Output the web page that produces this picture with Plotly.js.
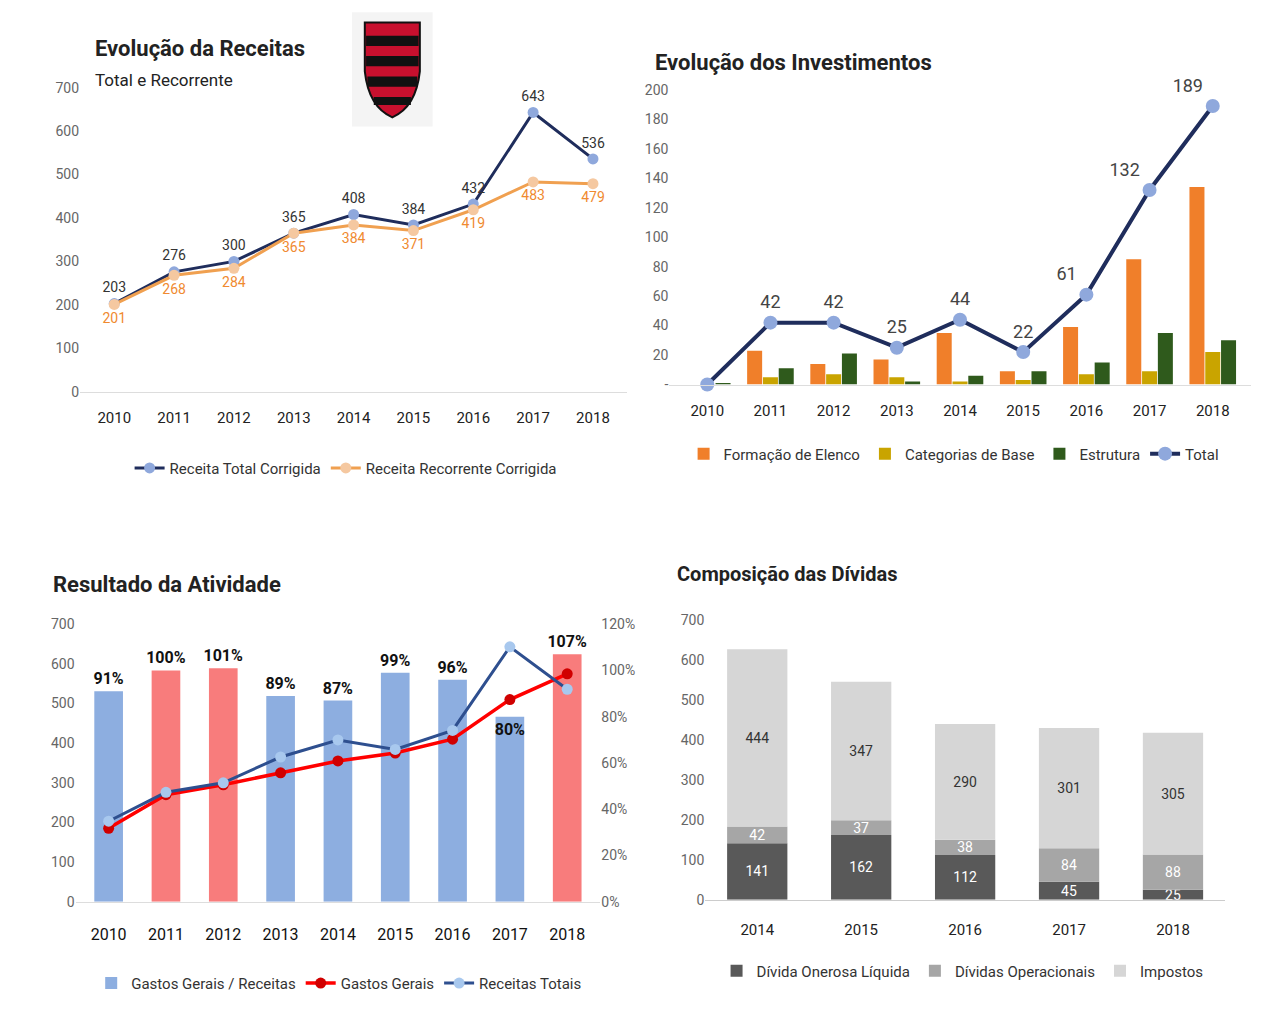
<!DOCTYPE html>
<html>
<head>
<meta charset="utf-8">
<script src="https://cdn.plot.ly/plotly-3.0.1.min.js"></script>
<style>body{margin:0;background:#fff}#graf{width:1280px;height:1020px}</style>
</head>
<body>
<div id="graf"></div>
<script>
// Dados
let anos = ['2010','2011','2012','2013','2014','2015','2016','2017','2018'];
let receita_total = [203, 276, 300, 365, 408, 384, 432, 643, 536];
let receita_recorrente = [201, 268, 284, 365, 384, 371, 419, 483, 479];

let invest_total = [0, 42, 42, 25, 44, 22, 61, 132, 189];
let formacao_elenco = [0, 23, 14, 17, 35, 9, 39, 85, 134];
let categorias_base = [0, 5, 7, 5, 2, 3, 7, 9, 22];
let estrutura = [1, 11, 21, 2, 6, 9, 15, 35, 30];

let gastos_receitas = [0.91, 1.00, 1.01, 0.89, 0.87, 0.99, 0.96, 0.80, 1.07];
let gastos_gerais = [185, 270, 295, 325, 355, 375, 410, 510, 575];
let receitas_totais = [203, 276, 300, 365, 408, 384, 432, 643, 536];

let anos_divida = ['2014','2015','2016','2017','2018'];
let divida_onerosa = [141, 162, 112, 45, 25];
let dividas_operacionais = [42, 37, 38, 84, 88];
let impostos = [444, 347, 290, 301, 305];

let fonte = 'Liberation Sans Narrow, Roboto, sans-serif';
let azul = '#1f2d5c', laranja = '#f0a050';

let pct = v => Math.round(v * 100) + '%';
// bases para empilhar as dívidas
let base_oper = divida_onerosa;
let base_imp = divida_onerosa.map((v, i) => v + dividas_operacionais[i]);

let data = [
  // Receitas
  {x: anos, y: receita_total, type: 'scatter', mode: 'lines+markers+text', name: 'Receita Total Corrigida',
   line: {color: azul, width: 3}, marker: {color: '#8fa8dc', size: 11},
   text: receita_total.map(String), textposition: 'top center', textfont: {color: '#333', size: 14},
   cliponaxis: false, xaxis: 'x', yaxis: 'y', legend: 'legend'},
  {x: anos, y: receita_recorrente, type: 'scatter', mode: 'lines+markers+text', name: 'Receita Recorrente Corrigida',
   line: {color: laranja, width: 3}, marker: {color: '#f5c8a0', size: 11},
   text: receita_recorrente.map(String), textposition: 'bottom center', textfont: {color: '#f08a30', size: 14},
   cliponaxis: false, xaxis: 'x', yaxis: 'y', legend: 'legend'},

  // Investimentos
  {x: anos, y: formacao_elenco, type: 'bar', name: 'Formação de Elenco', marker: {color: '#f07f2a'},
   xaxis: 'x2', yaxis: 'y2', legend: 'legend2'},
  {x: anos, y: categorias_base, type: 'bar', name: 'Categorias de Base', marker: {color: '#c9a400'},
   xaxis: 'x2', yaxis: 'y2', legend: 'legend2'},
  {x: anos, y: estrutura, type: 'bar', name: 'Estrutura', marker: {color: '#2f5a1c'},
   xaxis: 'x2', yaxis: 'y2', legend: 'legend2'},
  {x: anos, y: invest_total, type: 'scatter', mode: 'lines+markers+text', name: 'Total',
   line: {color: azul, width: 4}, marker: {color: '#8fa8dc', size: 14},
   text: invest_total.map((v, i) => i === 0 ? '' : String(v)),
   textposition: ['top center','top center','top center','top center','top center','top center','top left','top left','top left'],
   textfont: {color: '#444', size: 18}, cliponaxis: false, xaxis: 'x2', yaxis: 'y2', legend: 'legend2'},

  // Resultado da Atividade
  {x: anos, y: gastos_receitas, type: 'bar', name: 'Gastos Gerais / Receitas',
   marker: {color: gastos_receitas.map(v => v >= 1 ? '#f87c7c' : '#8daee0')},
   text: gastos_receitas.map(v => '<b>' + pct(v) + '</b>'), textposition: gastos_receitas.map((v, i) => i === 7 ? 'inside' : 'outside'),
   insidetextanchor: 'end', textangle: 0, constraintext: 'none',
   textfont: {color: '#111', size: 16}, cliponaxis: false, width: 0.5,
   xaxis: 'x3', yaxis: 'y3', legend: 'legend3'},
  {x: anos, y: gastos_gerais, type: 'scatter', mode: 'lines+markers', name: 'Gastos Gerais',
   line: {color: '#ff0000', width: 3.5}, marker: {color: '#d00000', size: 11},
   xaxis: 'x3', yaxis: 'y5', legend: 'legend3'},
  {x: anos, y: receitas_totais, type: 'scatter', mode: 'lines+markers', name: 'Receitas Totais',
   line: {color: '#2e4f8f', width: 3}, marker: {color: '#a8c8ee', size: 11},
   xaxis: 'x3', yaxis: 'y5', legend: 'legend3'},

  // Dívidas (empilhadas com base)
  {x: anos_divida, y: divida_onerosa, type: 'bar', name: 'Dívida Onerosa Líquida', marker: {color: '#595959'},
   offsetgroup: 'div', text: divida_onerosa.map(String), textposition: 'inside', insidetextanchor: 'middle',
   textangle: 0, constraintext: 'none', textfont: {color: '#fff', size: 14}, width: 0.58, xaxis: 'x4', yaxis: 'y4', legend: 'legend4'},
  {x: anos_divida, y: dividas_operacionais, base: base_oper, type: 'bar', name: 'Dívidas Operacionais', marker: {color: '#a6a6a6'},
   offsetgroup: 'div', text: dividas_operacionais.map(String), textposition: 'inside', insidetextanchor: 'middle',
   textangle: 0, constraintext: 'none', textfont: {color: '#fff', size: 14}, width: 0.58, xaxis: 'x4', yaxis: 'y4', legend: 'legend4'},
  {x: anos_divida, y: impostos, base: base_imp, type: 'bar', name: 'Impostos', marker: {color: '#d6d6d6'},
   offsetgroup: 'div', text: impostos.map(String), textposition: 'inside', insidetextanchor: 'middle',
   textangle: 0, textfont: {color: '#333', size: 14}, width: 0.58, xaxis: 'x4', yaxis: 'y4', legend: 'legend4'}
];

let eixoX = {type: 'category', showgrid: false, zeroline: false, showline: false, ticks: '',
             tickfont: {size: 15, color: '#222'}, ticklabelstandoff: 12};
let eixoY = {showgrid: false, zeroline: false, showline: false, tickfont: {size: 14, color: '#666'}};
let leg = (x, y) => ({x: x, y: y, xanchor: 'center', yanchor: 'middle', orientation: 'h',
                      font: {size: 15, color: '#333'}, bgcolor: 'rgba(0,0,0,0)', traceorder: 'normal'});

let layout = {
  width: 1280, height: 1020, margin: {l: 0, r: 0, t: 0, b: 0},
  paper_bgcolor: '#fff', plot_bgcolor: 'rgba(0,0,0,0)', font: {family: fonte},
  barmode: 'group', bargap: 0.25, bargroupgap: 0.05,
  xaxis: Object.assign({}, eixoX, {domain: [0.0625, 0.49], anchor: 'y', showline: true, linecolor: '#ddd'}),
  yaxis: Object.assign({}, eixoY, {domain: [0.616, 0.914], range: [0, 700], dtick: 100, anchor: 'x'}),
  xaxis2: Object.assign({}, eixoX, {domain: [0.523, 0.977], anchor: 'y2', showline: true, linecolor: '#ddd'}),
  yaxis2: Object.assign({}, eixoY, {domain: [0.623, 0.912], range: [0, 200], anchor: 'x2',
           tickvals: [0,20,40,60,80,100,120,140,160,180,200], ticktext: ['-','20','40','60','80','100','120','140','160','180','200']}),
  xaxis3: Object.assign({}, eixoX, {domain: [0.059, 0.469], anchor: 'y3', showline: true, linecolor: '#ddd',
           tickfont: {size: 16, color: '#111'}, ticklabelstandoff: 18}),
  yaxis3: Object.assign({}, eixoY, {domain: [0.116, 0.388], range: [0, 1.2], dtick: 0.2, side: 'right',
           tickformat: '.0%', anchor: 'x3'}),
  yaxis5: Object.assign({}, eixoY, {overlaying: 'y3', side: 'left', range: [0, 700], dtick: 100, anchor: 'x3'}),
  xaxis4: Object.assign({}, eixoX, {domain: [0.551, 0.957], anchor: 'y4', showline: true, linecolor: '#ccc', ticklabelstandoff: 16}),
  yaxis4: Object.assign({}, eixoY, {domain: [0.118, 0.392], range: [0, 700], dtick: 100, anchor: 'x4'}),
  legend: leg(0.27, 0.541),
  legend2: leg(0.745, 0.555),
  legend3: leg(0.265, 0.036),
  legend4: leg(0.752, 0.048),
  annotations: [
    {text: '<b>Evolução da Receitas</b>', x: 0.073, y: 0.967, xref: 'paper', yref: 'paper', xanchor: 'left', showarrow: false, font: {size: 22, color: '#222'}},
    {text: 'Total e Recorrente', x: 0.073, y: 0.933, xref: 'paper', yref: 'paper', xanchor: 'left', showarrow: false, font: {size: 17, color: '#222'}},
    {text: '<b>Evolução dos Investimentos</b>', x: 0.51, y: 0.953, xref: 'paper', yref: 'paper', xanchor: 'left', showarrow: false, font: {size: 22, color: '#222'}},
    {text: '<b>Resultado da Atividade</b>', x: 0.04, y: 0.427, xref: 'paper', yref: 'paper', xanchor: 'left', showarrow: false, font: {size: 22, color: '#222'}},
    {text: '<b>Composição das Dívidas</b>', x: 0.527, y: 0.437, xref: 'paper', yref: 'paper', xanchor: 'left', showarrow: false, font: {size: 20, color: '#222'}}
  ],
  shapes: [
    // escudo (simplificado)
    {type: 'rect', xref: 'paper', yref: 'paper', x0: 0.275, x1: 0.338, y0: 0.876, y1: 0.988, fillcolor: '#f4f4f4', line: {width: 0}},
    {type: 'path', xref: 'paper', yref: 'paper', path: 'M 0.285 0.978 L 0.328 0.978 L 0.328 0.93 Q 0.325 0.895 0.3065 0.885 Q 0.288 0.895 0.285 0.93 Z',
     fillcolor: '#c8102e', line: {color: '#111', width: 2}},
    {type: 'rect', xref: 'paper', yref: 'paper', x0: 0.286, x1: 0.327, y0: 0.955, y1: 0.965, fillcolor: '#111', line: {width: 0}},
    {type: 'rect', xref: 'paper', yref: 'paper', x0: 0.286, x1: 0.327, y0: 0.935, y1: 0.945, fillcolor: '#111', line: {width: 0}},
    {type: 'rect', xref: 'paper', yref: 'paper', x0: 0.287, x1: 0.326, y0: 0.915, y1: 0.925, fillcolor: '#111', line: {width: 0}},
    {type: 'rect', xref: 'paper', yref: 'paper', x0: 0.292, x1: 0.321, y0: 0.897, y1: 0.905, fillcolor: '#111', line: {width: 0}}
  ]
};

Plotly.newPlot('graf', data, layout, {displayModeBar: false, staticPlot: true});
</script>
</body>
</html>
